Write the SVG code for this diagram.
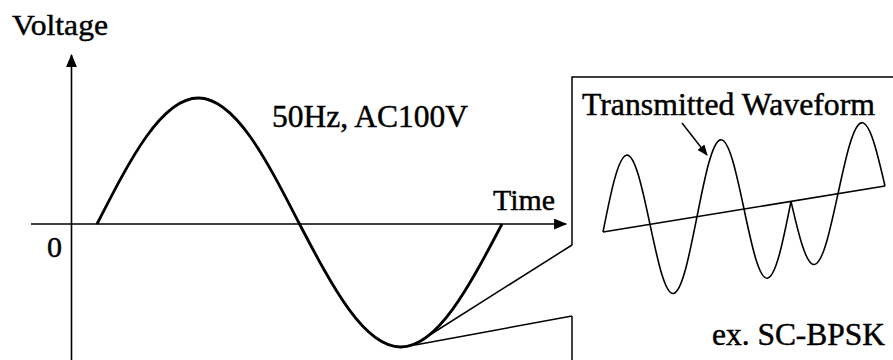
<svg xmlns="http://www.w3.org/2000/svg" width="893" height="360" viewBox="0 0 893 360">
<defs>
<style>
text{font-family:"Liberation Serif","Times New Roman",serif;fill:#000;stroke:#000;stroke-width:0.45}
.ax{stroke:#000;stroke-width:1.6;fill:none}
.ln{stroke:#000;stroke-width:1.5;fill:none}
.main{stroke:#000;stroke-width:2.8;fill:none;stroke-linejoin:round}
.wave{stroke:#000;stroke-width:1.6;fill:none}
</style>
<marker id="ah" viewBox="0 0 12 10" refX="11" refY="5" markerWidth="13" markerHeight="11" markerUnits="userSpaceOnUse" orient="auto">
<path d="M0,0 L12,5 L0,10 Z" fill="#000"/>
</marker>
<marker id="ah2" viewBox="0 0 12 10" refX="11" refY="5" markerWidth="11" markerHeight="9" markerUnits="userSpaceOnUse" orient="auto">
<path d="M0,0 L12,5 L0,10 Z" fill="#000"/>
</marker>
</defs>
<rect width="893" height="360" fill="#fff"/>
<g id="axes">
<line class="ax" x1="71.5" y1="360" x2="71.5" y2="55" marker-end="url(#ah)"/>
<line class="ax" x1="31" y1="224" x2="566" y2="224" marker-end="url(#ah)"/>
</g>
<g id="labels">
<text x="12" y="35" font-size="30" textLength="96" lengthAdjust="spacingAndGlyphs">Voltage</text>
<text x="54.5" y="257" font-size="30" text-anchor="middle">0</text>
<text x="493" y="210" font-size="29.5" textLength="62" lengthAdjust="spacingAndGlyphs">Time</text>
<text x="272" y="127" font-size="31" textLength="196" lengthAdjust="spacingAndGlyphs">50Hz, AC100V</text>
</g>
<g id="ac-wave">
<path class="main" d="M97,224 C130,159.45 161.6,98 198.25,98 C234.9,98 266.5,159.45 299.5,224 C332.5,287 364.1,347 400.75,347 C437.4,347 469,287 502,224"/>
</g>
<g id="connectors">
<path class="ln" d="M572,245 L425,338"/>
<path class="ln" d="M572,316 L415,345"/>
</g>
<g id="zoom-box">
<path class="ln" d="M572,245 L572,77 L893,77"/>
<path class="ln" d="M572,316 L572,360"/>
<text x="582" y="115" font-size="31.3" textLength="293" lengthAdjust="spacingAndGlyphs">Transmitted Waveform</text>
<line class="ln" x1="682" y1="123" x2="707" y2="155" marker-end="url(#ah2)"/>
<g transform="matrix(1,-0.1631,0,1,603,232)">
<path class="wave" vector-effect="non-scaling-stroke" d="M0,0 L282,0"/>
<path class="wave" vector-effect="non-scaling-stroke" d="M0,0 C7.66,-37.4 15,-73 23.5,-73 C32,-73 39.34,-37.4 47,0 C54.66,37.4 62,73 70.5,73 C79,73 86.34,37.4 94,0 C101.66,-37.4 109,-73 117.5,-73 C126,-73 133.34,-37.4 141,0 C148.66,37.4 156,73 164.5,73 C173,73 180.34,37.4 188,0 C195.66,34.3 203,67 211.5,67 C220,67 227.34,34.3 235,0 C242.66,-34.3 250,-67 258.5,-67 C267,-67 274.34,-34.3 282,0"/>
</g>
<text x="712" y="345" font-size="31" textLength="173" lengthAdjust="spacingAndGlyphs">ex. SC-BPSK</text>
</g>
</svg>
